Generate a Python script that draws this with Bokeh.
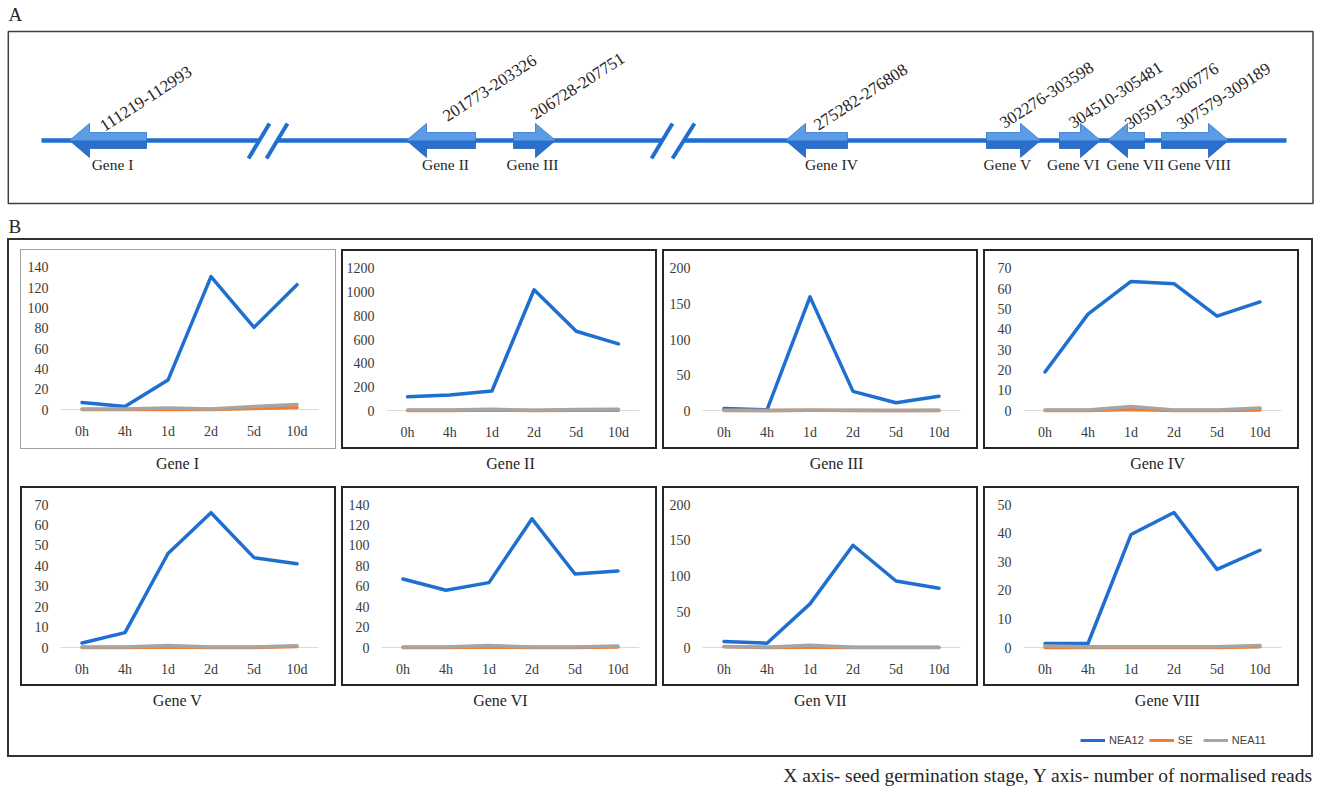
from bokeh.plotting import figure
from bokeh.models import (Range1d, FactorRange, FixedTicker, Span, Legend, LegendItem,
                          Spacer, Column, Row)
from bokeh.core.properties import value
from bokeh.embed import file_html
from bokeh.resources import INLINE

SERIF = "Liberation Serif"
SANS = "Liberation Sans"
BLUE = "#1f6fd0"
ORANGE = "#ed7d31"
GRAY = "#a5a5a5"
INK = "#262626"

# ---------------- data ----------------
stages = ["0h", "4h", "1d", "2d", "5d", "10d"]
panel_titles = ["Gene I", "Gene II", "Gene III", "Gene IV",
                "Gene V", "Gene VI", "Gen VII", "Gene VIII"]
series_names = ["NEA12", "SE", "NEA11"]

# normalised reads per gene (rows) and germination stage (columns)
nea12_reads = [
    [7, 3, 29, 131, 81, 123],
    [116, 132, 165, 1020, 670, 563],
    [3, 1, 160, 27, 11, 20],
    [19, 47.5, 63.6, 62.5, 46.5, 53.5],
    [2.2, 7.3, 46, 66, 44, 41],
    [67, 56, 63.5, 126, 72, 75],
    [8.5, 6, 61, 143, 93, 83],
    [1.4, 1.4, 39.5, 47.2, 27.3, 34],
]
se_reads = [
    [0, 0, 0, 0, 1, 2],
    [0, 0, 5, 0, 2, 3],
    [0, 0, 0.5, 0, 0, 0],
    [0, 0, 0.5, 0, 0, 0.3],
    [0, 0, 0.3, 0, 0, 0.5],
    [0, 0, 0.5, 0, 0, 0.5],
    [1.5, 0, 0.5, 0, 0, 0],
    [0, 0, 0, 0, 0, 0.3],
]
nea11_reads = [
    [0.5, 0.5, 1.5, 0.5, 3, 5],
    [4, 5, 10, 3, 8, 10],
    [0.3, 0.2, 0.5, 0.3, 0.2, 0.3],
    [0.3, 0.3, 2, 0.3, 0.3, 1.2],
    [0.3, 0.3, 1, 0.3, 0.3, 0.8],
    [0.5, 0.5, 2, 0.5, 0.5, 1.5],
    [1, 0.5, 3, 0.5, 0.5, 0.5],
    [0.5, 0.3, 0.3, 0.3, 0.3, 0.7],
]
y_axis_max = [140, 1200, 200, 70, 70, 140, 200, 50]
y_axis_step = [20, 200, 50, 10, 10, 20, 50, 10]

map_genes = ["Gene I", "Gene II", "Gene III", "Gene IV",
             "Gene V", "Gene VI", "Gene VII", "Gene VIII"]
map_ranges = ["111219-112993", "201773-203326", "206728-207751", "275282-276808",
              "302276-303598", "304510-305481", "305913-306776", "307579-309189"]
map_strand = [-1, -1, 1, -1, 1, 1, -1, 1]

# ------------- layout of the schematic (page pixels) -------------
arrow_left = [69, 406, 513, 785, 986, 1059, 1107, 1161]
arrow_right = [146, 475, 555, 847, 1040, 1100, 1144, 1228]
gene_label_x = [112, 445, 532, 831, 1007, 1073, 1135, 1199]
range_label_x = [101, 444, 532, 815, 1001, 1070, 1126, 1178]
range_label_y = [127, 117, 115, 126, 124, 124, 125, 125]
TRACK_Y = 140


def blank(width, height, x0, x1, y0, y1):
    """Figure whose data space equals page pixels (y downwards)."""
    return figure(width=width, height=height, x_range=Range1d(x0, x1), y_range=Range1d(y1, y0),
                  x_axis_type=None, y_axis_type=None, min_border=0, outline_line_color=None,
                  toolbar_location=None, output_backend="svg")


# ================= panel A =================
figA = blank(1318, 238, 0, 1318, 0, 238)

figA.quad(left=[7.8], right=[1312.5], top=[31], bottom=[203], fill_color=None,
          line_color="#404040", line_width=1.5)

figA.multi_line(xs=[[41, 258], [277, 662], [683, 1286]], ys=[[TRACK_Y, TRACK_Y]] * 3,
                line_color=BLUE, line_width=4.5)
figA.multi_line(xs=[[248, 269], [266, 287], [651, 672], [672, 694]],
                ys=[[158, 123]] * 4, line_color=BLUE, line_width=4)

full_xs, full_ys, top_xs, top_ys = [], [], [], []
HEAD, HH, BH = 20, 17, 8
yc = TRACK_Y
for L, R, s in zip(arrow_left, arrow_right, map_strand):
    tip, base, hb = (L, R, L + HEAD) if s < 0 else (R, L, R - HEAD)
    full_xs.append([tip, hb, hb, base, base, hb, hb])
    full_ys.append([yc, yc - HH, yc - BH, yc - BH, yc + BH, yc + BH, yc + HH])
    top_xs.append([tip, hb, hb, base, base])
    top_ys.append([yc, yc - HH, yc - BH, yc - BH, yc])

figA.patches(xs=full_xs, ys=full_ys, fill_color="#2a6fcc", line_color="#2462b8", line_width=0.8)
figA.patches(xs=top_xs, ys=top_ys, fill_color="#5c9ce6", line_color=None)

figA.text(x=range_label_x, y=range_label_y, text=map_ranges, angle=33, angle_units="deg",
          text_font=value(SERIF), text_font_size="17px", text_align="left",
          text_baseline="alphabetic", text_color=INK)
figA.text(x=gene_label_x, y=[164] * 8, text=map_genes,
          text_font=value(SERIF), text_font_size="15.5px", text_align="center",
          text_baseline="middle", text_color=INK)
figA.text(x=[8, 8], y=[14, 226], text=["A", "B"], text_font=value(SERIF),
          text_font_size="19px", text_align="left", text_baseline="middle", text_color=INK)


# ================= panel B subplots =================
def subplot(i):
    ymax, step = y_axis_max[i], y_axis_step[i]
    k = 143.0 / ymax
    bw = 1 if i == 0 else 2
    bc = "#a0a0a0" if i == 0 else "#262626"
    p = figure(width=316, height=200, x_range=FactorRange(*stages),
               y_range=Range1d(-5.0 / k, ymax + 4.0 / k),
               min_border_left=40 - bw, min_border_right=18 + bw,
               min_border_top=14 - bw, min_border_bottom=34 + bw,
               outline_line_color=None, toolbar_location=None, output_backend="svg",
               styles={"border": f"{bw}px solid {bc}"})
    p.xgrid.visible = False
    p.ygrid.visible = False
    p.add_layout(Span(location=0, dimension="width", line_color="#d9d9d9",
                      line_width=1, level="underlay"))
    for vals, col in ((nea12_reads[i], BLUE), (se_reads[i], ORANGE), (nea11_reads[i], GRAY)):
        p.line(x=stages, y=vals, line_color=col, line_width=3.5,
               line_join="round", line_cap="round")
    p.yaxis.ticker = FixedTicker(ticks=list(range(0, ymax + 1, step)), minor_ticks=[])
    for ax in (p.xaxis[0], p.yaxis[0]):
        ax.axis_line_color = None
        ax.major_tick_line_color = None
        ax.minor_tick_line_color = None
        ax.major_tick_in = 0
        ax.major_tick_out = 0
        ax.major_label_text_font = SERIF
        ax.major_label_text_font_size = "14px"
        ax.major_label_text_color = "#3a3a3a"
    p.yaxis.major_label_standoff = 12
    p.xaxis.major_label_standoff = 9
    return p


subs = [subplot(i) for i in range(8)]


def sub_row(figs):
    kids = [Spacer(width=11, height=200)]
    for j, f in enumerate(figs):
        if j:
            kids.append(Spacer(width=5, height=200))
        kids.append(f)
    kids.append(Spacer(width=12, height=200))
    return Row(children=kids)


row1 = sub_row(subs[0:4])
row2 = sub_row(subs[4:8])

lab1 = blank(1302, 37, 9, 1311, 449, 486)
lab1.text(x=[177, 510, 836, 1157], y=[463] * 4, text=panel_titles[0:4],
          text_font=value(SERIF), text_font_size="16px", text_align="center",
          text_baseline="middle", text_color=INK)

lab2 = blank(1302, 69, 9, 1311, 686, 755)
lab2.text(x=[177, 500, 820, 1167], y=[700] * 4, text=panel_titles[4:8],
          text_font=value(SERIF), text_font_size="16px", text_align="center",
          text_baseline="middle", text_color=INK)
nan = float("nan")
leg_renderers = [lab2.line(x=[nan], y=[nan], line_color=c, line_width=3)
                 for c in (BLUE, ORANGE, GRAY)]
legend = Legend(items=[LegendItem(label=n, renderers=[r]) for n, r in zip(series_names, leg_renderers)],
                orientation="horizontal", location=(1071, 9),
                label_text_font=SANS, label_text_font_size="11px", label_text_color="#404040",
                glyph_width=25, glyph_height=12, label_standoff=4, spacing=5, padding=4,
                border_line_color=None, background_fill_alpha=0)
lab2.add_layout(legend)

panelB = Column(children=[Spacer(width=1302, height=9), row1, lab1, row2, lab2],
                styles={"border": "2px solid #333333"})

capfig = blank(1318, 32, 0, 1318, 757, 789)
capfig.text(x=[1313], y=[775], text=["X axis- seed germination stage, Y axis- number of normalised reads"],
            text_font=value(SERIF), text_font_size="19.5px", text_align="right",
            text_baseline="middle", text_color=INK)

page = Column(children=[figA, Row(children=[Spacer(width=7, height=519), panelB]), capfig])

open("out.html", "w").write(file_html(page, INLINE))
